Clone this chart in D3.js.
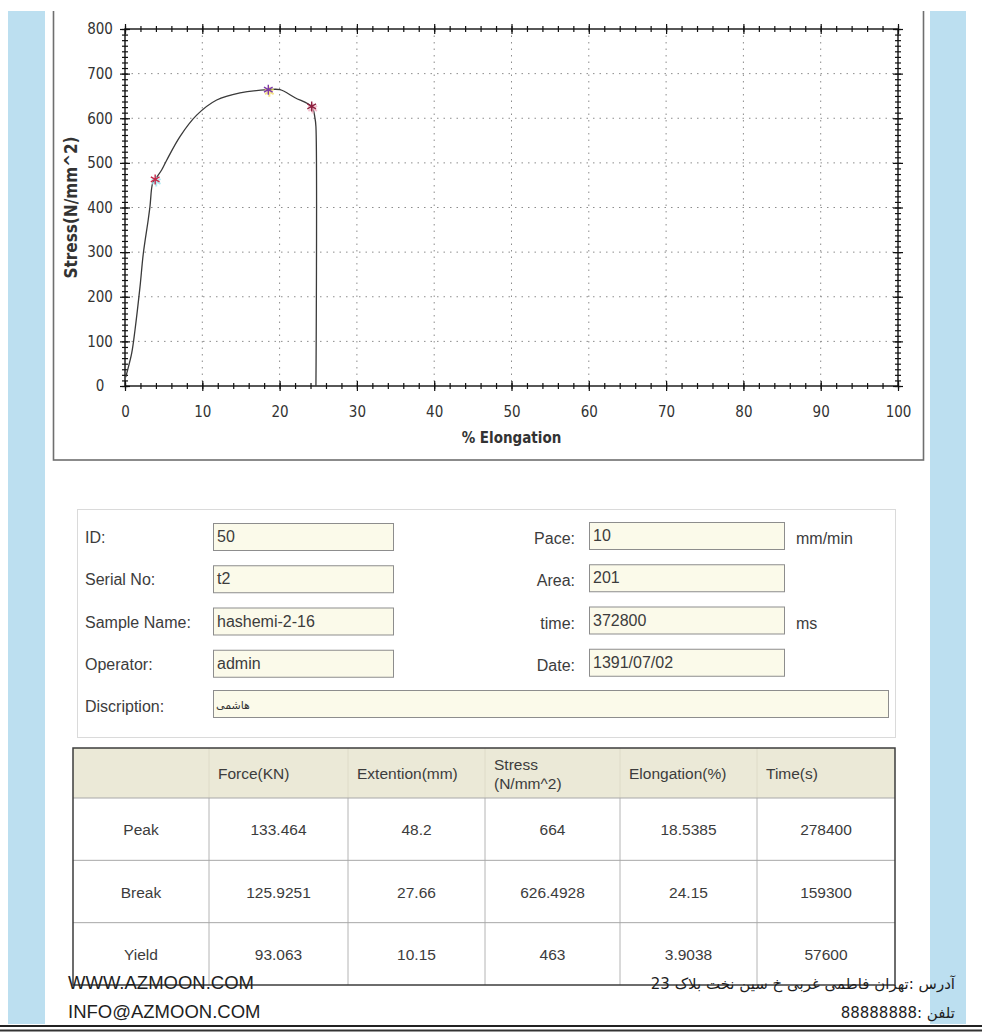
<!DOCTYPE html>
<html>
<head>
	<meta charset="utf-8">
	<title>Stress - Elongation report</title>
	<style>
		html, body { margin:0; padding:0; background:#fff; }
		body { font-family: "Liberation Sans", Arial, sans-serif; }
		.narrow { font-family: "Liberation Sans Narrow", "DejaVu Sans Condensed", "Liberation Sans", sans-serif; }
		.axis path { display:none; }
		.axis line { stroke:#111; stroke-width:1.2px; }
		.axis text { fill:#333; font-size:15px; }
		.grid { stroke:#8c8c8c; stroke-width:1px; stroke-dasharray:1.5,5; }
		.curve { fill:none; stroke:#3a3a3a; stroke-width:1.3px; stroke-linejoin:round; }
		.lbl { fill:#3c3c3c; font-size:16px; }
		.box { fill:#fbfaea; stroke:#8d8d8d; stroke-width:1px; }
		.cell { fill:#3c3c3c; font-size:15.5px; }
	</style>
	<script src="https://d3js.org/d3.v7.min.js"></script>
</head>
<body>
<svg id="page"></svg>
<script>

	//curve
	var elongation = [0.1, 0.22, 0.86, 1.29, 1.94, 2.37, 3.0, 3.23, 3.57, 3.9, 4.74, 5.39, 7.11, 9.27, 11.86, 14.88, 18.54, 20.05, 22.0, 24.15, 24.58, 24.7, 24.7];
	var stress     = [20, 28, 73, 125, 222, 297, 372, 402, 454, 463, 484, 506, 559, 607, 641, 657, 664, 664, 646, 626, 600, 581, 0];

	//points marked with a star: yield, peak, break
	var markNames = ["Yield", "Peak", "Break"];
	var markElong = [3.9038, 18.5385, 24.15];
	var markStress = [463, 664, 626.4928];

	//axes
	var xMajor = [0, 10, 20, 30, 40, 50, 60, 70, 80, 90, 100];
	var yMajor = [0, 100, 200, 300, 400, 500, 600, 700, 800];
	var xTitle = "% Elongation";
	var yTitle = "Stress(N/mm^2)";

	//form fields
	var leftLabels = ["ID:", "Serial No:", "Sample Name:", "Operator:"];
	var leftValues = ["50", "t2", "hashemi-2-16", "admin"];
	var rightLabels = ["Pace:", "Area:", "time:", "Date:"];
	var rightValues = ["10", "201", "372800", "1391/07/02"];
	var rightUnits = ["mm/min", "", "ms", ""];
	var descLabel = "Discription:";
	var descValue = "هاشمی";

	//result table
	var tableHeads = ["", "Force(KN)", "Extention(mm)", "Stress\n(N/mm^2)", "Elongation(%)", "Time(s)"];
	var tableRows = ["Peak", "Break", "Yield"];
	var forceKN = ["133.464", "125.9251", "93.063"];
	var extentionMm = ["48.2", "27.66", "10.15"];
	var stressN = ["664", "626.4928", "463"];
	var elongPct = ["18.5385", "24.15", "3.9038"];
	var timeS = ["278400", "159300", "57600"];

	//footer
	var footerLeft = ["WWW.AZMOON.COM", "INFO@AZMOON.COM"];
	var footerRight = ["آدرس :تهران فاطمی غربی خ سین نخت بلاک 23", "تلفن :88888888"];

	var W = 982, H = 1036;
	var svg = d3.select("#page").attr("width", W).attr("height", H);

	//page frame: blue side bars, report panel
	svg.append("rect").attr("x",0).attr("y",0).attr("width",W).attr("height",H).attr("fill","#fff");
	svg.append("rect").attr("x",8).attr("y",11).attr("width",37).attr("height",1013).attr("fill","#bcdff0");
	svg.append("rect").attr("x",930).attr("y",11).attr("width",36).attr("height",1013).attr("fill","#bcdff0");
	svg.append("rect").attr("x",45).attr("y",11).attr("width",885).attr("height",1013).attr("fill","#fff");
	svg.append("rect").attr("x",53.5).attr("y",4).attr("width",870).attr("height",456).attr("fill","#fff")
		.attr("stroke","#6f6f6f").attr("stroke-width",1.6);
	svg.append("rect").attr("x",0).attr("y",0).attr("width",W).attr("height",11).attr("fill","#fff");

	//----- chart -----
	var x = d3.scaleLinear().domain([0,100]).range([125,898]);
	var y = d3.scaleLinear().domain([0,800]).range([386,29]);
	var xMinor = d3.range(0, 100.01, 2);
	var yMinor = d3.range(0, 800.01, 12.5);

	var gc = svg.append("g");

	//dotted grid
	gc.append("g").selectAll("line").data(xMajor.slice(1,-1)).enter().append("line").attr("class","grid")
		.attr("x1",function(d){return x(d);}).attr("x2",function(d){return x(d);})
		.attr("y1",y(800)).attr("y2",y(0));
	gc.append("g").selectAll("line").data(yMajor.slice(1,-1)).enter().append("line").attr("class","grid")
		.attr("x1",x(0)).attr("x2",x(100))
		.attr("y1",function(d){return y(d);}).attr("y2",function(d){return y(d);});

	//frame lines of the plot
	gc.append("rect").attr("x",x(0)).attr("y",y(800)).attr("width",x(100)-x(0)).attr("height",y(0)-y(800))
		.attr("fill","none").attr("stroke","#111").attr("stroke-width",1.4);

	//axes with ticks crossing the line
	function crossTicks(g, size, vertical){
		g.selectAll(".tick line").attr(vertical ? "x1" : "y1", -size).attr(vertical ? "x2" : "y2", size);
	}
	var axB = gc.append("g").attr("class","axis narrow").attr("transform","translate(0,"+y(0)+")")
		.call(d3.axisBottom(x).tickValues(xMajor).tickFormat(d3.format("d")).tickSize(5));
	crossTicks(axB, 5, false);
	axB.selectAll("text").attr("y",20);
	var axBm = gc.append("g").attr("class","axis").attr("transform","translate(0,"+y(0)+")")
		.call(d3.axisBottom(x).tickValues(xMinor).tickFormat("").tickSize(3));
	crossTicks(axBm, 3, false);
	var axT = gc.append("g").attr("class","axis").attr("transform","translate(0,"+y(800)+")")
		.call(d3.axisTop(x).tickValues(xMinor).tickFormat("").tickSize(3));
	crossTicks(axT, 3, false);
	var axTM = gc.append("g").attr("class","axis").attr("transform","translate(0,"+y(800)+")")
		.call(d3.axisTop(x).tickValues(xMajor).tickFormat("").tickSize(5));
	crossTicks(axTM, 5, false);

	var axL = gc.append("g").attr("class","axis narrow").attr("transform","translate("+x(0)+",0)")
		.call(d3.axisLeft(y).tickValues(yMajor).tickFormat(d3.format("d")).tickSize(5));
	crossTicks(axL, 5, true);
	axL.selectAll("text").attr("x",-25).attr("text-anchor","middle");
	var axLm = gc.append("g").attr("class","axis").attr("transform","translate("+x(0)+",0)")
		.call(d3.axisLeft(y).tickValues(yMinor).tickFormat("").tickSize(3));
	crossTicks(axLm, 3, true);
	var axR = gc.append("g").attr("class","axis").attr("transform","translate("+x(100)+",0)")
		.call(d3.axisRight(y).tickValues(yMinor).tickFormat("").tickSize(3));
	crossTicks(axR, 3, true);
	var axRM = gc.append("g").attr("class","axis").attr("transform","translate("+x(100)+",0)")
		.call(d3.axisRight(y).tickValues(yMajor).tickFormat("").tickSize(5));
	crossTicks(axRM, 5, true);

	//axis titles
	gc.append("text").attr("class","narrow").attr("x",(x(0)+x(100))/2).attr("y",443)
		.attr("text-anchor","middle").style("font-size","15px").style("font-weight","bold").attr("fill","#333").text(xTitle);
	gc.append("text").attr("class","narrow").attr("transform","translate(77,"+((y(0)+y(800))/2)+") rotate(-90)")
		.attr("text-anchor","middle").style("font-size","17px").style("font-weight","bold").attr("fill","#333").text(yTitle);

	//curve
	var pts = elongation.map(function(e,i){ return [e, stress[i]]; });
	gc.append("path").datum(pts).attr("class","curve")
		.attr("d", d3.line().curve(d3.curveCatmullRom.alpha(0.5)).x(function(d){return x(d[0]);}).y(function(d){return y(d[1]);}));

	//star markers
	var haloCol = {Yield:"#9fe3ee", Peak:"#f3dc6a", Break:"#f2b3c3"};
	var starCol = {Yield:"#c42a4a", Peak:"#7d3aa6", Break:"#8e2140"};
	var star = d3.symbol().type(d3.symbolAsterisk).size(70);
	var mk = gc.append("g").selectAll("g").data(markNames).enter().append("g")
		.attr("transform", function(d,i){ return "translate("+x(markElong[i])+","+y(markStress[i])+")"; });
	mk.append("path").attr("d",star).attr("transform","translate(1,2)").attr("fill","none")
		.attr("stroke",function(d){return haloCol[d];}).attr("stroke-width",2).attr("opacity",0.8);
	mk.append("path").attr("d",star).attr("fill","none")
		.attr("stroke",function(d){return starCol[d];}).attr("stroke-width",1.4);

	//----- form -----
	var gf = svg.append("g");
	gf.append("rect").attr("x",77.5).attr("y",509.5).attr("width",818).attr("height",228)
		.attr("fill","none").attr("stroke","#dadada");

	var rowY = d3.scalePoint().domain(d3.range(5)).range([537, 706]);

	gf.selectAll(".ll").data(leftLabels).enter().append("text").attr("class","lbl")
		.attr("x",85).attr("y",function(d,i){return rowY(i)+6;}).text(function(d){return d;});
	gf.selectAll(".lb").data(leftValues).enter().append("rect").attr("class","box")
		.attr("x",213.5).attr("y",function(d,i){return rowY(i)-13.5;}).attr("width",180).attr("height",27);
	gf.selectAll(".lv").data(leftValues).enter().append("text").attr("class","lbl")
		.attr("x",217).attr("y",function(d,i){return rowY(i)+5;}).text(function(d){return d;});

	gf.selectAll(".rl").data(rightLabels).enter().append("text").attr("class","lbl")
		.attr("x",575).attr("y",function(d,i){return rowY(i)+7;}).attr("text-anchor","end").text(function(d){return d;});
	gf.selectAll(".rb").data(rightValues).enter().append("rect").attr("class","box")
		.attr("x",589.5).attr("y",function(d,i){return rowY(i)-14.5;}).attr("width",195).attr("height",27);
	gf.selectAll(".rv").data(rightValues).enter().append("text").attr("class","lbl")
		.attr("x",593).attr("y",function(d,i){return rowY(i)+4;}).text(function(d){return d;});
	gf.selectAll(".ru").data(rightUnits).enter().append("text").attr("class","lbl")
		.attr("x",796).attr("y",function(d,i){return rowY(i)+7;}).text(function(d){return d;});

	gf.append("text").attr("class","lbl").attr("x",85).attr("y",rowY(4)+6).text(descLabel);
	gf.append("rect").attr("class","box").attr("x",213.5).attr("y",rowY(4)-15.5).attr("width",675).attr("height",27);
	gf.append("text").attr("x",216).attr("y",rowY(4)+3).style("font-family","'DejaVu Sans', sans-serif")
		.style("font-size","11px").attr("fill","#333").text(descValue);

	//----- table -----
	var gt = svg.append("g");
	var colX = [73, 209, 348, 485, 620, 757, 895];
	var tTop = 748, tHead = 798, tBot = 985;
	var rowBand = d3.scaleBand().domain(tableRows).range([tHead, tBot]);
	var cols = [tableRows, forceKN, extentionMm, stressN, elongPct, timeS];

	gt.append("rect").attr("x",colX[0]).attr("y",tTop).attr("width",colX[6]-colX[0]).attr("height",tHead-tTop).attr("fill","#ebe9d7");
	gt.selectAll(".hs").data(colX.slice(1,-1)).enter().append("line")
		.attr("x1",function(d){return d;}).attr("x2",function(d){return d;}).attr("y1",tTop).attr("y2",tHead)
		.attr("stroke","#dedbc8");
	gt.selectAll(".cs").data(colX.slice(1,-1)).enter().append("line")
		.attr("x1",function(d){return d;}).attr("x2",function(d){return d;}).attr("y1",tHead).attr("y2",tBot)
		.attr("stroke","#b4b4b4");
	gt.selectAll(".rs").data(tableRows).enter().append("line")
		.attr("x1",colX[0]).attr("x2",colX[6]).attr("y1",function(d){return rowBand(d);}).attr("y2",function(d){return rowBand(d);})
		.attr("stroke","#a8a8a8");
	gt.append("rect").attr("x",colX[0]).attr("y",tTop).attr("width",colX[6]-colX[0]).attr("height",tBot-tTop)
		.attr("fill","none").attr("stroke","#3d3d3d").attr("stroke-width",1.5);

	tableHeads.forEach(function(h,i){
		var lines = h.split("\n");
		var t = gt.append("text").attr("class","cell").attr("fill","#555");
		lines.forEach(function(l,j){
			t.append("tspan").attr("x",colX[i]+9).attr("y",(tTop+tHead)/2+6+(j-(lines.length-1)/2)*19).text(l);
		});
	});
	cols.forEach(function(col,i){
		gt.selectAll(null).data(col).enter().append("text").attr("class","cell")
			.attr("x",(colX[i]+colX[i+1])/2).attr("y",function(d,k){return rowBand(tableRows[k])+rowBand.bandwidth()/2+6;})
			.attr("text-anchor","middle").text(function(d){return d;});
	});

	//----- footer -----
	var fy = [989, 1018];
	svg.selectAll(".fl").data(footerLeft).enter().append("text")
		.attr("x",68).attr("y",function(d,i){return fy[i];}).style("font-size","18.5px").attr("fill","#1e1e1e")
		.text(function(d){return d;});
	svg.selectAll(".fr").data(footerRight).enter().append("text")
		.attr("x",955).attr("y",function(d,i){return fy[i];}).attr("direction","rtl").attr("text-anchor","start")
		.style("font-family","'DejaVu Sans', sans-serif").style("font-size","15px").attr("fill","#1e1e1e")
		.text(function(d){return d;});

	svg.append("line").attr("x1",0).attr("x2",W).attr("y1",1026).attr("y2",1026).attr("stroke","#222").attr("stroke-width",2);
	svg.append("line").attr("x1",0).attr("x2",W).attr("y1",1030.5).attr("y2",1030.5).attr("stroke","#333").attr("stroke-width",2);

</script>
</body>
</html>
